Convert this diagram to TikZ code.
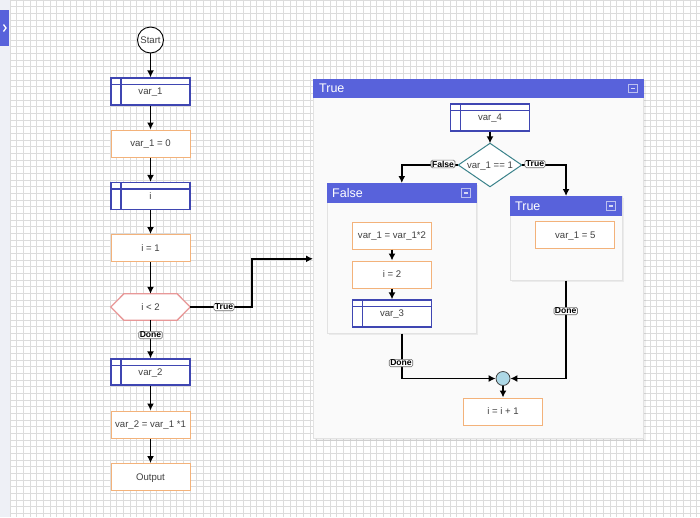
\documentclass[tikz,border=0pt]{standalone}
\usepackage{fontspec}
\setmainfont{Liberation Sans}
\usetikzlibrary{arrows.meta,calc}
\definecolor{gridc}{RGB}{220,220,220}
\definecolor{sidec}{RGB}{238,240,246}
\definecolor{headblue}{RGB}{88,98,219}
\definecolor{structblue}{RGB}{63,70,178}
\definecolor{orangec}{RGB}{243,178,122}
\definecolor{hexpink}{RGB}{232,152,152}
\definecolor{teal}{RGB}{58,130,138}
\definecolor{joinfill}{RGB}{173,216,230}
\definecolor{txt}{RGB}{64,64,64}
\definecolor{contfill}{RGB}{250,250,250}
\definecolor{contborder}{RGB}{226,226,226}
\definecolor{labborder}{RGB}{110,110,110}
\begin{document}
\begin{tikzpicture}[x=1pt,y=-1pt,
  basefont/.style={font=\fontsize{9.6}{11}\selectfont, text=txt, text height=6pt, text depth=0pt},
  stepbox/.style={basefont, draw=orangec, fill=white, line width=1pt, minimum width=79pt, minimum height=27pt, inner sep=0pt},
  structbox/.style={basefont, draw=structblue, fill=white, line width=1.3pt, minimum width=79pt, minimum height=27pt, inner sep=0pt,
    path picture={
      \draw[structblue, line width=1.3pt] ([yshift=-6.5pt]path picture bounding box.north west) -- ([yshift=-6.5pt]path picture bounding box.north east);
      \draw[structblue, line width=1.3pt] ([xshift=10pt]path picture bounding box.north west) -- ([xshift=10pt]path picture bounding box.south west);
    }},
  ghost/.style={basefont, minimum width=79pt, minimum height=26pt, inner sep=0pt},
  cont/.style={draw=contborder, fill=contfill, anchor=north west, inner sep=0pt, line width=0.6pt},
  conttitle/.style={anchor=west, text=white, font=\fontsize{12.5}{14}\selectfont, inner sep=0pt},
  arr/.style={draw=black, line width=1.4pt, -{Latex[length=7pt,width=7pt]}},
  elabel/.style={fill=white, draw=labborder, rounded corners=1.5pt, inner xsep=1pt, inner ysep=0.7pt, font=\bfseries\fontsize{8.6}{8.6}\selectfont, text=black, line width=0.6pt},
  minbtn/.style={draw=white, draw opacity=0.6, line width=0.7pt, minimum width=8.5pt, minimum height=8.5pt, inner sep=0pt,
    path picture={\draw[white, opacity=0.75, line width=1.2pt] ([xshift=2pt]path picture bounding box.west) -- ([xshift=-2pt]path picture bounding box.east);}}
]
\useasboundingbox (0,0) rectangle (700,517);
\fill[white] (0,0) rectangle (700,517);
% grid
\foreach \i in {0,...,104} \draw[gridc, line width=0.5pt] ({10+\i*6.6667},0) -- ({10+\i*6.6667},517);
\foreach \j in {0,...,77} \draw[gridc, line width=0.5pt] (10,{\j*6.6667}) -- (700,{\j*6.6667});
% sidebar
\fill[sidec] (0,0) rectangle (10,517);
\fill[headblue] (0,10) rectangle (9,46);
\draw[white, line width=1.3pt] (3.5,24.5) -- (6,28) -- (3.5,31.5);

% left column
\node[draw=black, fill=white, circle, minimum size=26pt, inner sep=0pt, line width=0.9pt, basefont] (start) at (150.5,40) {Start};
\node[structbox] (v1) at (150.5,91.5) {var\_1};
\node[stepbox] (s1) at (150.5,143.5) {var\_1 = 0};
\node[structbox] (vi) at (150.5,196) {i};
\node[stepbox] (s2) at (150.5,248) {i = 1};
\node[ghost] (cond) at (150.5,307) {i < 2};
\draw[hexpink, fill=white, line width=1.3pt] (cond.west) -- ([xshift=13pt]cond.north west) -- ([xshift=-13pt]cond.north east) -- (cond.east) -- ([xshift=-13pt]cond.south east) -- ([xshift=13pt]cond.south west) -- cycle;
\node[ghost] at (cond) {i < 2};
\node[structbox, minimum height=26pt] (v2) at (150.5,372) {var\_2};
\node[stepbox] (s3) at (150.5,424.5) {var\_2 = var\_1 *1};
\node[stepbox] (out) at (150.5,477) {Output};

\draw[arr] (start) -- (v1);
\draw[arr] (v1) -- (s1);
\draw[arr] (s1) -- (vi);
\draw[arr] (vi) -- (s2);
\draw[arr] (s2) -- (cond);
\draw[arr] (cond) -- (v2);
\node[elabel] at (150.5,335) {Done};
\draw[arr] (v2) -- (s3);
\draw[arr] (s3) -- (out);

% True container
\fill[black, opacity=0.06] (315,81) rectangle (645.5,440.5);
\node[cont, minimum width=330pt, minimum height=359pt] (ctrue) at (313,79) {};
\fill[headblue] (ctrue.north west) rectangle ([yshift=-18.5pt]ctrue.north east);
\node[conttitle] (ttrue) at (319,88.5) {True};
\node[minbtn] (btrue) at (633,88.5) {};

\coordinate (bend1) at (252,307);
\draw[arr] (cond.east) -- (bend1) |- (ctrue.west);
\node[elabel] at (224,307) {True};

\node[structbox] (v4) at (490,117.5) {var\_4};
\node[basefont, minimum width=63pt, minimum height=43pt, inner sep=0pt] (dia) at (490,165) {};
\draw[teal, fill=white, line width=1pt] (dia.west) -- (dia.north) -- (dia.east) -- (dia.south) -- cycle;
\node[basefont] at (dia) {var\_1 == 1};
\draw[arr] (v4) -- (dia);

% False container
\fill[black, opacity=0.06] (329,185) rectangle (478,335);
\node[cont, minimum width=149pt, minimum height=150pt] (cfalse) at (327,183) {};
\fill[headblue] (cfalse.north west) rectangle ([yshift=-19.5pt]cfalse.north east);
\node[conttitle] (tfalse) at (332,193) {False};
\node[minbtn] (bfalse) at (466,193) {};

% True inner container
\fill[black, opacity=0.06] (512,198) rectangle (623.5,282);
\node[cont, minimum width=111.5pt, minimum height=84pt] (ctrue2) at (510,196) {};
\fill[headblue] (ctrue2.north west) rectangle ([yshift=-19.5pt]ctrue2.north east);
\node[conttitle] (ttrue2) at (515,206) {True};
\node[minbtn] (btrue2) at (611,206) {};

\draw[arr] (dia.west) -| (cfalse.north);
\node[elabel] at (443,164) {False};
\draw[arr] (dia.east) -| (ctrue2.north);
\node[elabel] at (535,164) {True};

\node[stepbox] (a1) at (392,235.5) {var\_1 = var\_1*2};
\node[stepbox] (a2) at (392,274.5) {i = 2};
\node[structbox] (v3) at (392,313.5) {var\_3};
\draw[arr] (a1) -- (a2);
\draw[arr] (a2) -- (v3);

\node[stepbox] (b1) at (575.3,235) {var\_1 = 5};

\node[circle, draw=black!75, fill=joinfill, minimum size=14pt, inner sep=0pt, line width=0.8pt] (join) at (503,378.5) {};
\draw[arr] (cfalse.south) |- (join.west);
\node[elabel] at (401,363) {Done};
\draw[arr] (ctrue2.south) |- (join.east);
\node[elabel] at (565.7,311) {Done};

\node[stepbox] (inc) at (503,411.5) {i = i + 1};
\draw[arr] (join) -- (inc);
\end{tikzpicture}
\end{document}
